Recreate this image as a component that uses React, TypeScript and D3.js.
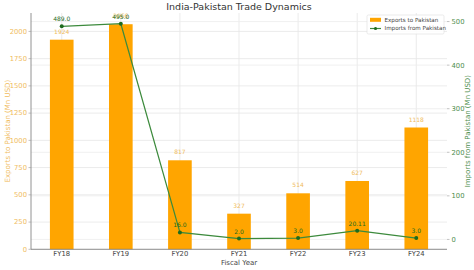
import React from "react";
import * as d3 from "d3";

const categories = ["FY18", "FY19", "FY20", "FY21", "FY22", "FY23", "FY24"];
const exportsVals = [1924, 2066, 817, 327, 514, 627, 1118];
const importsVals = [489.0, 495.0, 16.0, 2.0, 3.0, 20.11, 3.0];
const importLabels = ["489.0", "495.0", "16.0", "2.0", "3.0", "20.11", "3.0"];
const leftTicks = [0, 250, 500, 750, 1000, 1250, 1500, 1750, 2000];
const rightTicks = [0, 100, 200, 300, 400, 500];

const W = 474, H = 270;
const M = { left: 31, right: 447, top: 13, bottom: 249.3 };
const FONT = "DejaVu Sans, sans-serif";
const ORANGE = "#FFA500";
const ORANGE_TXT = "#F0BC5E";
const GREEN = "#3C8A3C";
const GREEN_DARK = "#1E6B1E";
const GREEN_TXT = "#4E8E4E";

export default function App() {
  const x = d3.scaleLinear().domain([-0.52, 6.52]).range([M.left, M.right]);
  const yL = d3.scaleLinear().domain([0, 2169]).range([M.bottom, M.top]);
  const yR = d3.scaleLinear().domain([-22.65, 519.65]).range([M.bottom, M.top]);
  const bw = x(0.4) - x(0);
  const line = d3
    .line<number>()
    .x((_, i) => x(i))
    .y((d) => yR(d));

  return (
    <svg width={W} height={H} style={{ position: "absolute", left: 0, top: 0, background: "#fff" }} fontFamily={FONT}>
      <rect width={W} height={H} fill="#fff" />
      {/* grids */}
      {categories.map((_, i) => (
        <line key={"vg" + i} x1={x(i)} x2={x(i)} y1={M.top} y2={M.bottom} stroke="#e6e6e6" strokeWidth={0.8} />
      ))}
      {leftTicks.map((t) => (
        <line key={"lg" + t} x1={M.left} x2={M.right} y1={yL(t)} y2={yL(t)} stroke="#e6e6e6" strokeWidth={0.8} />
      ))}
      {rightTicks.map((t) => (
        <line key={"rg" + t} x1={M.left} x2={M.right} y1={yR(t)} y2={yR(t)} stroke="#ececec" strokeWidth={0.8} />
      ))}
      {/* bars */}
      {exportsVals.map((v, i) => (
        <rect key={"b" + i} x={x(i) - bw / 2} y={yL(v)} width={bw} height={yL(0) - yL(v)} fill={ORANGE} />
      ))}
      {exportsVals.map((v, i) => (
        <text key={"bl" + i} x={x(i)} y={yL(v) - 6} textAnchor="middle" fontSize={6} fill={ORANGE_TXT}>
          {v}
        </text>
      ))}
      {/* line */}
      <path d={line(importsVals) || ""} fill="none" stroke={GREEN} strokeWidth={1.2} />
      {importsVals.map((v, i) => (
        <circle key={"p" + i} cx={x(i)} cy={yR(v)} r={2} fill={GREEN_DARK} />
      ))}
      {importsVals.map((v, i) => (
        <text key={"pl" + i} x={x(i)} y={yR(v) - 5} textAnchor="middle" fontSize={6} fill={GREEN_DARK}>
          {importLabels[i]}
        </text>
      ))}
      {/* spines */}
      <line x1={M.left} x2={M.left} y1={M.top} y2={M.bottom} stroke="#777" strokeWidth={0.8} />
      <line x1={M.left} x2={M.right} y1={M.bottom} y2={M.bottom} stroke="#777" strokeWidth={0.8} />
      {/* left ticks */}
      {leftTicks.map((t) => (
        <g key={"lt" + t}>
          <line x1={M.left - 2.5} x2={M.left} y1={yL(t)} y2={yL(t)} stroke="#999" strokeWidth={0.6} />
          <text x={M.left - 4} y={yL(t)} dy="0.35em" textAnchor="end" fontSize={6.8} fill={ORANGE_TXT}>
            {t}
          </text>
        </g>
      ))}
      {/* right ticks */}
      {rightTicks.map((t) => (
        <g key={"rt" + t}>
          <line x1={M.right} x2={M.right + 2.5} y1={yR(t)} y2={yR(t)} stroke="#999" strokeWidth={0.6} />
          <text x={M.right + 4.5} y={yR(t)} dy="0.35em" textAnchor="start" fontSize={6.8} fill={GREEN_TXT}>
            {t}
          </text>
        </g>
      ))}
      {/* x ticks */}
      {categories.map((c, i) => (
        <text key={"xt" + c} x={x(i)} y={M.bottom + 7} textAnchor="middle" fontSize={6.8} fill="#444">
          {c}
        </text>
      ))}
      {/* axis labels */}
      <text x={(M.left + M.right) / 2} y={265} textAnchor="middle" fontSize={7} fill="#444">
        Fiscal Year
      </text>
      <text transform={`translate(10,${(M.top + M.bottom) / 2}) rotate(-90)`} textAnchor="middle" fontSize={7} fill={ORANGE_TXT}>
        Exports to Pakistan (Mn USD)
      </text>
      <text transform={`translate(470,${(M.top + M.bottom) / 2}) rotate(-90)`} textAnchor="middle" fontSize={7} fill={GREEN_TXT}>
        Imports from Pakistan (Mn USD)
      </text>
      {/* title */}
      <text x={(M.left + M.right) / 2} y={10} textAnchor="middle" fontSize={9.5} fill="#333">
        India-Pakistan Trade Dynamics
      </text>
      {/* legend */}
      <g transform="translate(367,15)">
        <rect x={0} y={0} width={77} height={19} fill="#fff" fillOpacity={0.85} stroke="#ddd" strokeWidth={0.6} rx={1.5} />
        <rect x={3} y={2.8} width={11} height={4} fill={ORANGE} />
        <text x={17.5} y={5} dy="0.35em" fontSize={5.6} fill="#444">Exports to Pakistan</text>
        <line x1={3} x2={14} y1={13.5} y2={13.5} stroke={GREEN} strokeWidth={1.2} />
        <circle cx={8.5} cy={13.5} r={1.6} fill={GREEN_DARK} />
        <text x={17.5} y={13.5} dy="0.35em" fontSize={5.6} fill="#444">Imports from Pakistan</text>
      </g>
    </svg>
  );
}
